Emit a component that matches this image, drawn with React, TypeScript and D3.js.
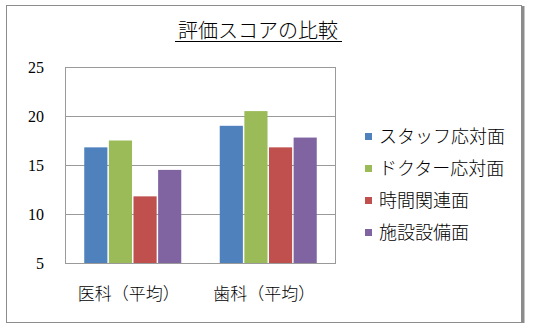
import React from "react";
import * as d3 from "d3";

const categories = ["医科（平均）", "歯科（平均）"];
const seriesNames = ["スタッフ応対面", "ドクター応対面", "時間関連面", "施設設備面"];
const staffValues = [16.8, 19.0];
const doctorValues = [17.5, 20.5];
const timeValues = [11.8, 16.8];
const facilityValues = [14.5, 17.8];
const yTicks = [5, 10, 15, 20, 25];
const colors = ["#4F81BD", "#9BBB59", "#C0504D", "#8064A2"];
const title = "評価スコアの比較";

const W = 535;
const H = 329;
const plot = { left: 65, right: 336, top: 67, bottom: 263 };

export default function App() {
  const series = [staffValues, doctorValues, timeValues, facilityValues];
  const x0 = d3
    .scaleBand<string>()
    .domain(categories)
    .range([plot.left, plot.right])
    .paddingInner(0.284)
    .paddingOuter(0.142);
  const x1 = d3
    .scaleBand<string>()
    .domain(seriesNames)
    .range([0, x0.bandwidth()])
    .paddingInner(0.06)
    .paddingOuter(0);
  const y = d3.scaleLinear().domain([5, 25]).range([plot.bottom, plot.top]);

  const cjk = "Noto Sans CJK JP, Noto Sans, sans-serif";
  const serif = "Liberation Serif, DejaVu Serif, serif";

  return (
    <svg
      width={W}
      height={H}
      style={{ position: "absolute", left: 0, top: 0, background: "#fff" }}
    >
      <rect x={0} y={0} width={W} height={H} fill="#fff" />
      {/* outer frame */}
      <rect x={6.5} y={5.5} width={515} height={317} fill="#fff" stroke="#8c8c8c" strokeWidth={1} />
      <line x1={523} y1={6} x2={523} y2={323} stroke="#8c8c8c" strokeWidth={3} />

      {/* title */}
      <text
        x={258}
        y={38}
        textAnchor="middle"
        fontFamily={cjk}
        fontSize={20}
        fontWeight={300}
        fill="#000"
      >
        {title}
      </text>
      <line x1={175} x2={342} y1={41.5} y2={41.5} stroke="#000" strokeWidth={1} />

      {/* gridlines */}
      {yTicks.map((t) => (
        <line
          key={"g" + t}
          x1={plot.left}
          x2={plot.right}
          y1={Math.round(y(t)) + 0.5}
          y2={Math.round(y(t)) + 0.5}
          stroke="#9a9a9a"
          strokeWidth={1}
        />
      ))}
      <line x1={plot.left + 0.5} x2={plot.left + 0.5} y1={plot.top} y2={plot.bottom} stroke="#9a9a9a" />
      <line x1={plot.right - 0.5} x2={plot.right - 0.5} y1={plot.top} y2={plot.bottom} stroke="#9a9a9a" />

      {/* y tick labels */}
      {yTicks.map((t) => (
        <text
          key={"t" + t}
          x={44}
          y={y(t)}
          dy="0.35em"
          textAnchor="end"
          fontFamily={serif}
          fontSize={16}
          fill="#000"
        >
          {t}
        </text>
      ))}

      {/* bars */}
      {categories.map((c, ci) => (
        <g key={c} transform={`translate(${x0(c)},0)`}>
          {seriesNames.map((s, si) => {
            const v = series[si][ci];
            return (
              <rect
                key={s}
                x={x1(s)}
                y={y(v)}
                width={x1.bandwidth()}
                height={y(5) - y(v)}
                fill={colors[si]}
              />
            );
          })}
        </g>
      ))}

      {/* x labels */}
      {categories.map((c) => (
        <text
          key={"x" + c}
          x={(x0(c) as number) + x0.bandwidth() / 2 - 4}
          y={300}
          textAnchor="middle"
          fontFamily={cjk}
          fontSize={17}
          fontWeight={300}
          fill="#000"
        >
          {c}
        </text>
      ))}

      {/* legend */}
      {seriesNames.map((s, i) => {
        const cy = 136.5 + i * 32;
        return (
          <g key={"l" + s}>
            <rect x={365} y={cy - 3.5} width={7} height={7} fill={colors[i]} />
            <text
              x={379}
              y={cy}
              dy="0.35em"
              fontFamily={cjk}
              fontSize={18}
              fontWeight={300}
              fill="#000"
            >
              {s}
            </text>
          </g>
        );
      })}
    </svg>
  );
}
